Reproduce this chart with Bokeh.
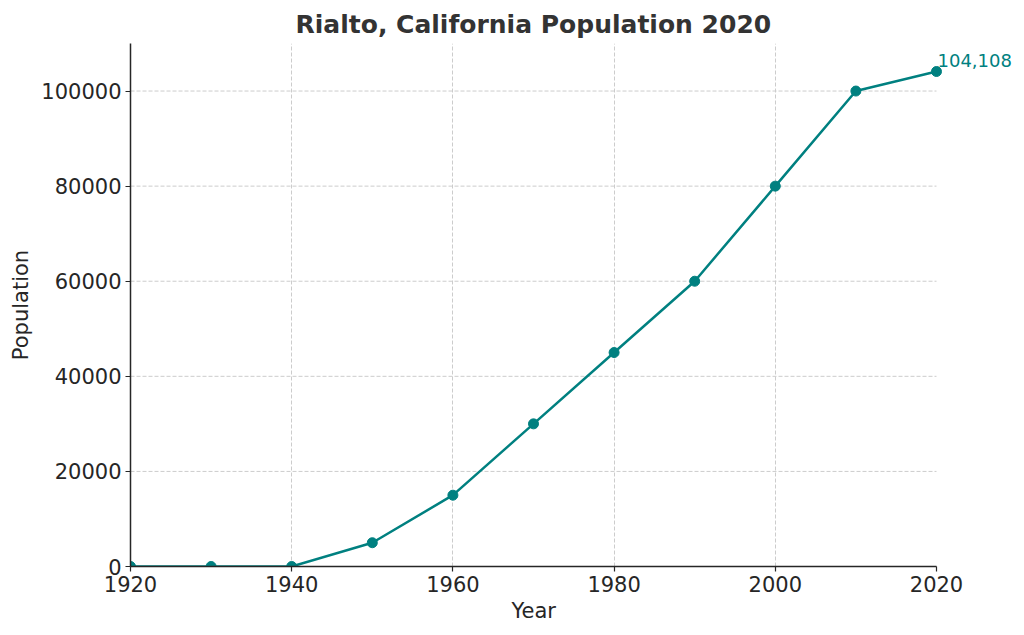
from bokeh.plotting import figure
from bokeh.models import Range1d, Label, FixedTicker, BasicTickFormatter, Title
from bokeh.embed import file_html
from bokeh.resources import INLINE

years = [1920, 1930, 1940, 1950, 1960, 1970, 1980, 1990, 2000, 2010, 2020]
population = [0, 0, 0, 5000, 15000, 30000, 45000, 60000, 80000, 100000, 104108]
x_ticks = [1920, 1940, 1960, 1980, 2000, 2020]
y_ticks = [0, 20000, 40000, 60000, 80000, 100000]
annotation_text = "104,108"
x_label = "Year"
y_label = "Population"

TEAL = "#008080"
FONT = "DejaVu Sans"
GRID = "#cccccc"
INK = "#262626"

# The frame is extended to the right (beyond 2020) so the end-label is not clipped;
# axis line and grid lines are bounded to the 1920-2020 span.
p = figure(width=1016, height=626, output_backend="svg", toolbar_location=None,
           x_range=Range1d(1920, 2029.43), y_range=Range1d(0, 110000),
           min_border_left=130, min_border_right=4, min_border_top=43, min_border_bottom=60)

p.title.text = "Rialto, California Population 2020"
p.title.align = "left"
p.title.offset = 165
p.title.text_font = FONT
p.title.text_font_size = "25px"
p.title.text_font_style = "bold"
p.title.text_color = "#333333"

p.outline_line_color = None
p.background_fill_color = "white"

for ax in (p.xaxis[0], p.yaxis[0]):
    ax.axis_line_color = INK
    ax.axis_line_width = 1.5
    ax.major_tick_line_color = INK
    ax.major_tick_line_width = 1.2
    ax.major_tick_in = 0
    ax.major_tick_out = 5
    ax.minor_tick_line_color = None
    ax.major_label_text_font = FONT
    ax.major_label_text_font_size = "21px"
    ax.major_label_text_color = INK
    ax.axis_label_text_font = FONT
    ax.axis_label_text_font_size = "21px"
    ax.axis_label_text_font_style = "normal"
    ax.axis_label_text_color = INK

p.xaxis.ticker = FixedTicker(ticks=x_ticks)
p.xaxis.bounds = (x_ticks[0], x_ticks[-1])
p.yaxis.ticker = FixedTicker(ticks=y_ticks)
p.yaxis.formatter = BasicTickFormatter(use_scientific=False)
p.yaxis.axis_label = y_label
p.xaxis.major_label_standoff = 4
p.yaxis.major_label_standoff = 4

# x-axis label as a below-title so it can be centred on the 1920-2020 span
xt = Title(text=x_label, align="left", offset=381, text_font=FONT,
           text_font_size="21px", text_font_style="normal", text_color=INK,
           standoff=4)
p.add_layout(xt, "below")

p.xgrid.ticker = FixedTicker(ticks=x_ticks[:-1])
p.xgrid.grid_line_color = GRID
p.xgrid.grid_line_dash = "4 2"
p.xgrid.grid_line_width = 1
p.ygrid.grid_line_color = None

n = len(y_ticks)
p.segment(x0=[x_ticks[0]] * n, y0=y_ticks, x1=[x_ticks[-1]] * n, y1=y_ticks,
          line_color=GRID, line_dash="4 2", line_width=1)

p.line(years, population, line_color=TEAL, line_width=2.5)
p.scatter(years, population, size=10, fill_color=TEAL, line_color=TEAL)

lbl = Label(x=years[-1], y=population[-1], text=annotation_text,
            text_font=FONT, text_font_size="18px", text_color=TEAL,
            text_baseline="middle", text_align="left", x_offset=1, y_offset=11)
p.add_layout(lbl)

open("out.html", "w").write(file_html(p, INLINE))
